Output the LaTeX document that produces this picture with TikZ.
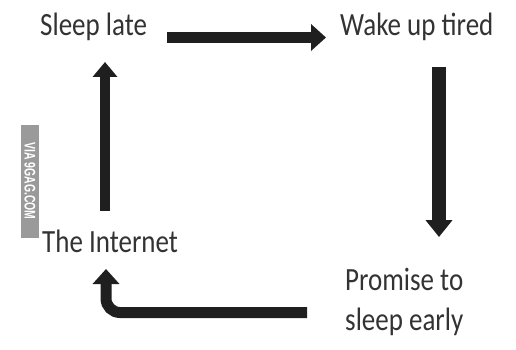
\documentclass[tikz,border=0pt]{standalone}
\usepackage{fontspec}
\setmainfont{Carlito}
\newfontfamily\wmfont{Liberation Sans}
\usetikzlibrary{arrows.meta}
\definecolor{txtc}{HTML}{333333}
\definecolor{arrc}{HTML}{1F1F1F}
\definecolor{wmgrey}{HTML}{9A9A9A}
\newcommand{\lbltext}[1]{\scalebox{1}[1.2]{#1}}
\begin{document}
\begin{tikzpicture}[x=1pt,y=-1pt,
  lbl/.style={anchor=base west,inner sep=0pt,text=txtc,font=\fontsize{27}{32}\selectfont},
  bigarrow/.style={draw=arrc,line width=11pt,-{Triangle[width=26pt,length=15pt]}},
]
\useasboundingbox[fill=white] (0,0) rectangle (516,350);
% watermark
\fill[wmgrey] (21,125) rectangle (39,238);
\node[rotate=-90,text=white,font=\wmfont\bfseries\fontsize{11}{13}\selectfont,inner sep=0pt] (wm) at (30,181) {\scalebox{0.95}[1.4]{VIA 9GAG.COM}};
% labels
\node[lbl] (sleep) at (40,36) {\lbltext{Sleep late}};
\node[lbl] (wake) at (340,36) {\lbltext{Wake up tired}};
\node[lbl] (promise) at (345,290) {\lbltext{Promise to}};
\node[lbl] (early) at (345,330) {\lbltext{sleep early}};
\node[lbl] (internet) at (42,252) {\lbltext{The Internet}};
% arrow end points
\coordinate (a1s) at (167,37.5);
\coordinate (a1e) at (326,37.5);
\coordinate (a2s) at (439,67);
\coordinate (a2e) at (439,237);
\coordinate (a3s) at (307,312.5);
\coordinate (a3c) at (106,312.5);
\coordinate (a3e) at (106,269);
\coordinate (a4s) at (105,211);
\coordinate (a4e) at (105,62);
% arrows
\draw[bigarrow] (a1s) -- (a1e);
\draw[bigarrow,line width=14pt,-{Triangle[width=26pt,length=17pt]}] (a2s) -- (a2e);
\draw[bigarrow,rounded corners=14pt] (a3s) -- (a3c) -- (a3e);
\draw[bigarrow,line width=10pt,-{Triangle[width=24pt,length=15pt]}] (a4s) -- (a4e);
\end{tikzpicture}
\end{document}
